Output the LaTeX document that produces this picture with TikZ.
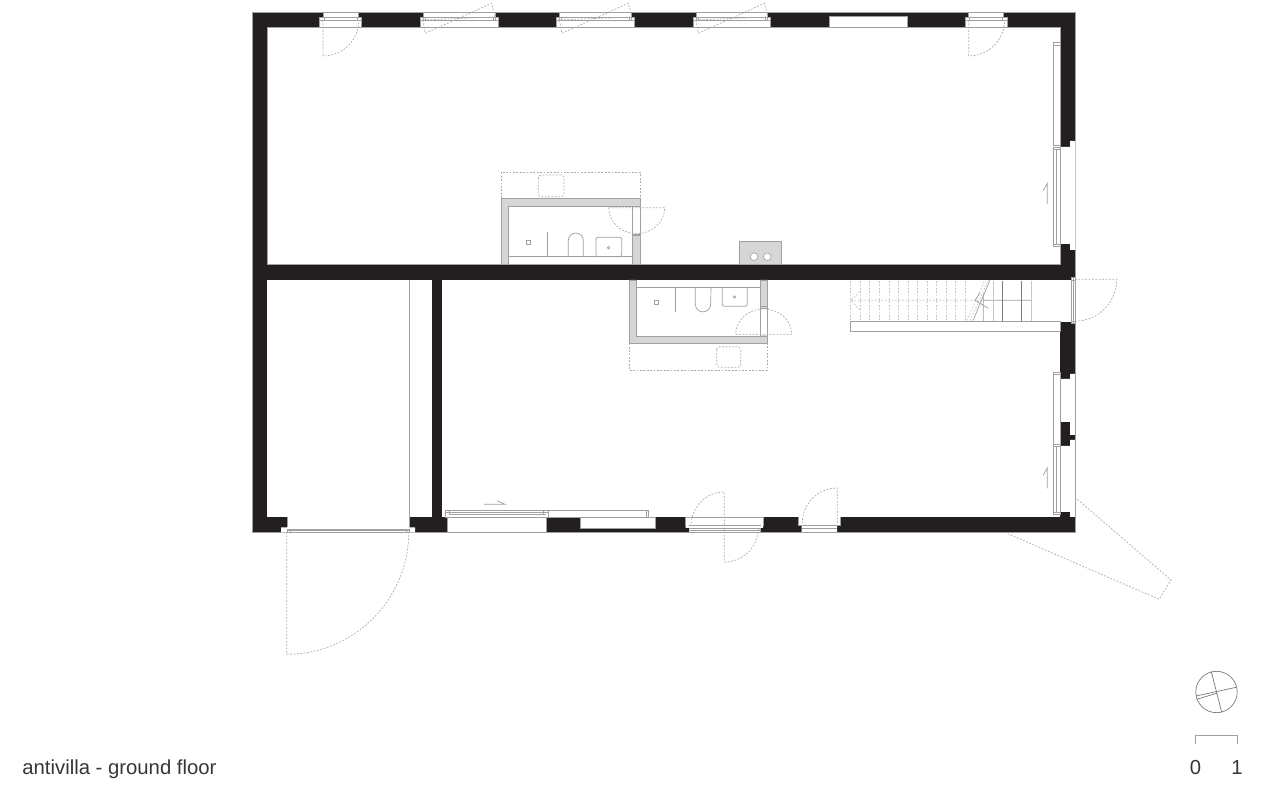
\documentclass[tikz,border=0pt]{standalone}
\usepackage{fontspec}
\setmainfont{Liberation Sans}
\usepackage{tikz}
\definecolor{wallblack}{HTML}{231F20}
\definecolor{linegray}{HTML}{A0A0A0}
\definecolor{dashgray}{HTML}{ABABAB}
\definecolor{lightline}{HTML}{C8C8C8}
\definecolor{tilegray}{HTML}{D6D6D6}
\tikzstyle{wall} = [fill=wallblack]
\tikzstyle{gap} = [fill=white]
\tikzstyle{l} = [draw=linegray, line width=0.35pt]
\tikzstyle{k} = [draw=wallblack!60, line width=0.35pt]
\tikzstyle{pale} = [draw=lightline, line width=0.5pt]
\tikzstyle{d} = [draw=dashgray, line width=0.35pt, dash pattern=on 0.9pt off 0.8pt]
\tikzstyle{dp} = [draw=lightline, line width=0.35pt, dash pattern=on 0.9pt off 0.8pt]
\tikzstyle{tile} = [fill=tilegray, draw=linegray, line width=0.3pt]
\tikzstyle{label} = [font=\fontsize{10.15pt}{12pt}\selectfont, text=wallblack!90, inner sep=0pt]

\begin{document}
\begin{tikzpicture}[x=0.5pt, y=-0.5pt]
		\useasboundingbox (0,0) rectangle (1280,785);

		% walls
		\fill[wall] (252,12) rectangle (1075,532);
		\fill[gap] (267,27) rectangle (1060,264);
		\fill[gap] (267,280) rectangle (432,517);
		\fill[gap] (442,280) rectangle (1060,517);
		\draw[l] (252,12) rectangle (1075,532);
		\draw[l] (267,27) rectangle (1060,264);

		% top wall, windows with a tilting leaf
		\foreach \xa/\xb in {423/495, 559.5/631.7, 696/767.7} {
			\fill[gap] (\xa,12) rectangle (\xb,17);
			\fill[gap] (\xa-3,17) rectangle (\xb+3,27);
			\draw[l] (\xa,12) -- (\xb,12) -- (\xb,17) -- (\xb+3,17) -- (\xb+3,27) -- (\xa-3,27) -- (\xa-3,17) -- (\xa,17) -- cycle;
			\draw[l] (\xa-3,17) -- (\xb+3,17) (\xa-3,20) -- (\xb+3,20);
			\draw[l] (\xa,17) -- (\xa,20) (\xa+2,17) -- (\xa+2,20) (\xb,17) -- (\xb,20) (\xb-2,17) -- (\xb-2,20);
			\draw[d] (\xa,20) -- (\xa+2.3,33.3) -- (\xb-3.3,3.3) -- (\xb,17) -- cycle;
		}

		% top wall, narrow doors
		\foreach \xa in {323, 968.7} {
			\fill[gap] (\xa,12) rectangle (\xa+35,17);
			\fill[gap] (\xa-3.5,17) rectangle (\xa+38.5,27);
			\draw[l] (\xa,12) -- (\xa+35,12) -- (\xa+35,17) -- (\xa+38.5,17) -- (\xa+38.5,27) -- (\xa-3.5,27) -- (\xa-3.5,17) -- (\xa,17) -- cycle;
			\draw[l] (\xa-3.5,17) -- (\xa+38.5,17) (\xa-3.5,20) -- (\xa+38.5,20);
			\draw[l] (\xa+1,17) -- (\xa+1,20) (\xa+34,17) -- (\xa+34,20);
			\draw[d] (\xa,20) -- (\xa,56) arc[start angle=-90, end angle=0, radius=18pt];
		}
		\fill[gap] (829.3,16) rectangle (907.3,27);
		\draw[l] (829.3,27) -- (829.3,16) -- (907.3,16) -- (907.3,27) -- cycle;

		% right wall, openings
		\fill[gap] (1060,147) -- (1070,147) -- (1070,141) -- (1075.5,141) -- (1075.5,250) -- (1070,250) -- (1070,244) -- (1060,244) -- cycle;
		\fill[gap] (1060,379) -- (1070,379) -- (1070,374) -- (1075.5,374) -- (1075.5,435) -- (1070,435) -- (1070,422) -- (1060,422) -- cycle;
		\fill[gap] (1060,446) -- (1070,446) -- (1070,440) -- (1075.5,440) -- (1075.5,517) -- (1070,517) -- (1070,512) -- (1060,512) -- cycle;
		\fill[gap] (1060,280) rectangle (1075.5,323);
		\fill[wall] (1060,321.7) rectangle (1071,323.5);
		\fill[gap] (1071,277.7) rectangle (1075.5,280);
		\draw[pale] (1075,141) -- (1075,250) (1060,147) -- (1060,244);
		\draw[l] (1075,374) -- (1075,435) (1075,440) -- (1075,517);
		\draw[l] (1060,379) -- (1060,422) (1060,446) -- (1060,512);

		% right wall, panels and arrows
		\draw[l] (1053.3,42.7) rectangle (1060,145) (1053.3,45) -- (1060,45);
		\draw[l] (1053.3,147) rectangle (1060,246.7) (1056.7,149) -- (1056.7,244.5) (1053.3,149) -- (1060,149) (1053.3,244.5) -- (1060,244.5);
		\draw[l] (1053.3,372.3) rectangle (1060,444) (1053.3,374.5) -- (1060,374.5);
		\draw[l] (1053.3,444) rectangle (1060,514) (1056.7,446) -- (1056.7,512) (1053.3,446) -- (1060,446) (1053.3,512) -- (1060,512);
		\foreach \ya in {183.3, 467.7} {
			\draw[l] (1047.3,\ya+20.7) -- (1047.3,\ya) -- (1043.3,\ya+7.4);
		}

		% right wall, entrance door and shutter
		\draw[l] (1071,277.7) rectangle (1075.5,323.3) (1073.2,277.7) -- (1073.2,323.3) (1071,280) -- (1075.5,280) (1071,321) -- (1075.5,321);
		\draw[d] (1075,279.3) -- (1116.7,279.3) arc[start angle=0, end angle=-90, radius=21pt];
		\draw[d] (1075,497.3) -- (1171,580) -- (1159,599.3) -- (1008.3,534);

		% bottom wall, big gate
		\fill[gap] (287,517) -- (409,517) -- (409,527.3) -- (415,527.3) -- (415,532.5) -- (281,532.5) -- (281,527.3) -- (287,527.3) -- cycle;
		\draw[l] (287,517) -- (287,527.3) (409,280) -- (409,527.3);
		\draw[l] (287,529) rectangle (409,532) (287,530.5) -- (409,530.5);
		\draw[l] (290,529) -- (290,532) (406,529) -- (406,532);
		\draw[d] (286.7,532) -- (286.7,654.3) arc[start angle=-90, end angle=0, radius=61pt];

		% bottom wall, sliding door
		\fill[gap] (447.3,517) rectangle (546.7,532.5);
		\draw[l] (447.3,517) -- (447.3,532) -- (546.7,532) -- (546.7,517);
		\draw[l] (445,510) rectangle (548,517) (548,510) rectangle (648,517);
		\draw[l] (445,512.3) -- (548,512.3) (449,514.3) -- (546,514.3);
		\draw[l] (449,510) -- (449,514.3) (543,510) -- (543,514.3) (646,510) -- (646,517);
		\draw[l] (484,504.3) -- (505,504.3) -- (497,500.7);
		\fill[gap] (580,517) rectangle (655.7,528);
		\draw[l] (580,517) rectangle (655.7,528);

		% bottom wall, double door
		\fill[gap] (685.7,517) -- (763,517) -- (763,528) -- (760.7,528) -- (760.7,532.5) -- (689,532.5) -- (689,528) -- (685.7,528) -- cycle;
		\draw[l] (685.7,517) -- (763,517) (685.7,517) -- (685.7,525.7) (763,517) -- (763,525.7);
		\draw[l] (689,525.7) -- (760.7,525.7) (689,528) -- (760.7,528) (689,530.7) -- (760.7,530.7) (689,532) -- (760.7,532);
		\draw[d] (724.3,525) -- (724.3,492) arc[start angle=90, end angle=180, radius=16.5pt];
		\draw[d] (724.3,528) -- (724.3,562) arc[start angle=-90, end angle=0, radius=17pt];

		% bottom wall, single door
		\fill[gap] (798,517) -- (840.7,517) -- (840.7,525.5) -- (837,525.5) -- (837,532.5) -- (801.7,532.5) -- (801.7,525.5) -- (798,525.5) -- cycle;
		\draw[l] (798,517) -- (798,525.5) -- (840.7,525.5) -- (840.7,517);
		\draw[l] (801.7,528) -- (837,528) (801.7,532) -- (837,532);
		\draw[d] (837.3,523) -- (837.3,488) arc[start angle=90, end angle=180, radius=17.5pt];

		% upper bathroom
		\fill[tile] (501.3,264) -- (501.3,198.3) -- (640,198.3) -- (640,264) -- (632.7,264) -- (632.7,206) -- (508.3,206) -- (508.3,264) -- cycle;
		\fill[gap] (632.9,207) rectangle (639.8,234);
		\draw[l] (632.7,206) rectangle (640,235.7) (632.7,234) -- (640,234);
		\draw[d] (501.3,198) -- (501.3,172.3) -- (640,172.3) -- (640,198);
		\draw[d, rounded corners=1.5pt] (538.3,175) rectangle (564,196.7);
		\draw[d] (608.3,207.7) -- (664.7,207.7) arc[start angle=0, end angle=-180, x radius=14pt, y radius=13pt];
		\draw[l] (508.3,256.7) -- (632.7,256.7) (547,231.7) -- (547,256.7);
		\draw[l] (568.3,256.7) -- (568.3,240.5) arc[start angle=180, end angle=0, radius=3.75pt] -- (583.3,256.7);
		\draw[l, rounded corners=1pt] (596,256.7) -- (596,237.3) -- (621.7,237.3) -- (621.7,256.7) -- cycle;
		\draw[l] (608.5,247.7) circle[radius=0.6pt];
		\draw[l] (526,240) rectangle (530,244.3);

		% lower bathroom
		\fill[tile] (629.3,280) -- (629.3,343.3) -- (767.3,343.3) -- (767.3,280) -- (760,280) -- (760,336.3) -- (636.7,336.3) -- (636.7,280) -- cycle;
		\fill[gap] (760.2,308.7) rectangle (767.1,335.5);
		\draw[l] (760,306.7) rectangle (767.3,336.3) (760,308.7) -- (767.3,308.7);
		\draw[d] (629.3,343.5) -- (629.3,370.3) -- (767.3,370.3) -- (767.3,343.5);
		\draw[d, rounded corners=1.5pt] (716.7,346.7) rectangle (740.7,367.3);
		\draw[d] (735.7,334.3) -- (791.7,334.3) arc[start angle=0, end angle=180, x radius=14pt, y radius=12.7pt];
		\draw[l] (636.7,287) -- (760,287) (675,287) -- (675,311.7);
		\draw[l] (695.3,287) -- (695.3,304.2) arc[start angle=180, end angle=360, radius=3.85pt] -- (711,287);
		\draw[l, rounded corners=1pt] (722.3,287) -- (722.3,306.3) -- (747.3,306.3) -- (747.3,287);
		\draw[l] (734.5,297) circle[radius=0.6pt];
		\draw[l] (654,300) rectangle (658.3,304.3);

		% kitchen block
		\fill[tile] (739.3,264) -- (739.3,241.7) -- (781.7,241.7) -- (781.7,264) -- cycle;
		\foreach \xa in {754, 767.3} {
			\filldraw[fill=white, draw=linegray, line width=0.3pt] (\xa,256.7) circle[radius=1.9pt];
		}

		% stairs
		\foreach \xa in {850.7, 860.2, 869.8, 879.3, 888.9, 898.5, 908, 917.6, 927.1, 936.7, 946.3, 955.8, 965.4} {
			\draw[dp] (\xa,281) -- (\xa,321);
		}
		\draw[dp] (851,300.3) -- (986,300.3) (860,291.7) -- (851,300.3) -- (860,310);
		\draw[dp] (966.7,320.7) -- (985,280) (970,320.7) -- (988.5,280);
		\draw[l] (973,320.7) -- (990,280);
		\draw[l] (983.3,293.3) -- (983.3,321) (983,300.3) -- (1031.7,300.3) (980,293.3) -- (975,300.3) -- (988.3,308.3);
		\draw[pale] (993.3,281) -- (993.3,321) (1031.7,281) -- (1031.7,321);
		\draw[k] (1002.7,281) -- (1002.7,321) (1021.7,281) -- (1021.7,321);
		\filldraw[fill=white, draw=linegray, line width=0.35pt] (850.7,321.3) rectangle (1060,331.7);

		% compass and scale
		\draw[k] (1216.5,692) circle[radius=10.35pt];
		\draw[k] (1211.3,671.7) -- (1221.7,712.3) (1196,696) -- (1236.3,687.3) (1196.7,699.3) -- (1216.7,693.3);
		\draw[l] (1195.3,744) -- (1195.3,735.5) -- (1237.3,735.5) -- (1237.3,744);
		\node[label, anchor=base west] (caption) at (22,774) {antivilla - ground floor};
		\node[label, anchor=base] (zero) at (1195.5,774) {0};
		\node[label, anchor=base] (one) at (1237,774) {1};
\end{tikzpicture}
\end{document}
